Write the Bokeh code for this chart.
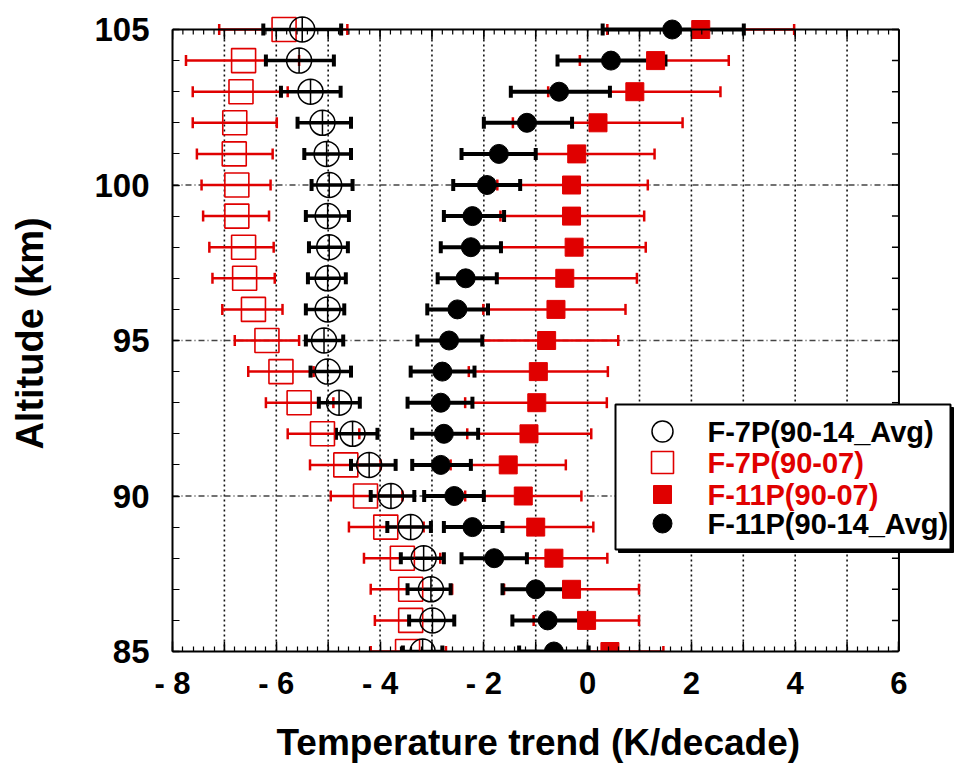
import numpy as np
from bokeh.plotting import figure
from bokeh.models import FixedTicker, Range1d, ColumnDataSource
from bokeh.embed import file_html
from bokeh.resources import INLINE
from bokeh.core.properties import value

# ---------------- data ----------------
altitude = [105, 104, 103, 102, 101, 100, 99, 98, 97, 96, 95,
            94, 93, 92, 91, 90, 89, 88, 87, 86, 85]

# F-7P(90-14_Avg)  open black circles
f7_avg     = [-5.50, -5.56, -5.34, -5.11, -5.03, -4.98, -5.01, -4.98, -5.01, -5.01, -5.08,
              -5.01, -4.79, -4.53, -4.21, -3.79, -3.41, -3.16, -3.02, -2.99, -3.18]
f7_avg_lo  = [-6.25, -6.20, -5.91, -5.59, -5.46, -5.32, -5.43, -5.37, -5.39, -5.43, -5.43,
              -5.34, -5.18, -4.85, -4.56, -4.18, -3.86, -3.60, -3.47, -3.44, -3.56]
f7_avg_hi  = [-4.75, -4.89, -4.76, -4.56, -4.56, -4.53, -4.60, -4.62, -4.66, -4.69, -4.71,
              -4.56, -4.39, -4.05, -3.70, -3.34, -3.02, -2.77, -2.64, -2.57, -2.80]

# F-7P(90-07)  open red squares
f7_07      = [-5.85, -6.63, -6.68, -6.80, -6.81, -6.76, -6.76, -6.63, -6.61, -6.44, -6.18,
              -5.91, -5.56, -5.11, -4.66, -4.28, -3.89, -3.57, -3.41, -3.41, -3.47]
f7_07_lo   = [-7.10, -7.74, -7.61, -7.61, -7.53, -7.44, -7.41, -7.29, -7.23, -7.04, -6.80,
              -6.54, -6.20, -5.78, -5.35, -4.95, -4.60, -4.31, -4.18, -4.10, -4.18]
f7_07_hi   = [-4.63, -5.56, -5.78, -5.99, -6.07, -6.11, -6.14, -6.05, -6.03, -5.88, -5.56,
              -5.28, -4.90, -4.40, -3.99, -3.57, -3.16, -2.84, -2.61, -2.57, -2.73]

# F-11P(90-07)  filled red squares
f11_07     = [2.18, 1.31, 0.91, 0.20, -0.21, -0.31, -0.31, -0.26, -0.44, -0.61, -0.79,
              -0.95, -0.98, -1.13, -1.53, -1.24, -1.00, -0.65, -0.31, -0.02, 0.43]
f11_07_lo  = [0.38, -0.15, -0.76, -1.44, -1.71, -1.74, -1.68, -1.67, -1.75, -2.01, -2.03,
              -2.29, -2.36, -2.32, -2.64, -2.36, -2.11, -1.68, -1.61, -1.04, -0.60]
f11_07_hi  = [3.98, 2.72, 2.56, 1.83, 1.29, 1.16, 1.09, 1.12, 0.95, 0.73, 0.59,
              0.39, 0.37, 0.07, -0.42, -0.12, 0.11, 0.38, 0.99, 0.99, 1.46]

# F-11P(90-14_Avg)  filled black circles
f11_avg    = [1.63, 0.45, -0.55, -1.17, -1.71, -1.94, -2.22, -2.25, -2.35, -2.51, -2.67,
              -2.80, -2.83, -2.77, -2.83, -2.57, -2.22, -1.80, -1.00, -0.77, -0.65]
f11_avg_lo = [0.29, -0.58, -1.48, -2.00, -2.43, -2.59, -2.77, -2.83, -2.89, -3.09, -3.28,
              -3.41, -3.47, -3.38, -3.38, -3.15, -2.77, -2.43, -1.64, -1.45, -1.32]
f11_avg_hi = [3.01, 1.50, 0.43, -0.30, -1.00, -1.30, -1.61, -1.67, -1.75, -1.92, -2.03,
              -2.18, -2.22, -2.11, -2.25, -2.00, -1.64, -1.17, -0.45, 0.00, 0.02]

x_min, x_max = -8, 6
y_min, y_max = 85, 105
x_label_ticks = [-8, -6, -4, -2, 0, 2, 4, 6]
x_tick_labels = {-8: "- 8", -6: "- 6", -4: "- 4", -2: "- 2", 0: "0", 2: "2", 4: "4", 6: "6"}
y_label_ticks = [85, 90, 95, 100, 105]
x_grid = [-7, -6, -5, -4, -3, -2, -1, 0, 1, 2, 3, 4, 5]
y_grid = [90, 95, 100]

series_names = ["F-7P(90-14_Avg)", "F-7P(90-07)", "F-11P(90-07)", "F-11P(90-14_Avg)"]
x_title = "Temperature trend (K/decade)"
y_title = "Altitude (km)"

RED = "#e00000"
FONT = "Liberation Sans"

# ---------------- layout (pixels) ----------------
FRAME_W, FRAME_H = 783, 636
PX_X = 51.89          # pixels per K/decade
PX_Y = 31.10          # pixels per km
X_END = x_min + FRAME_W / PX_X
Y_END = y_min + FRAME_H / PX_Y
dx = lambda px: px / PX_X
dy = lambda px: px / PX_Y

p = figure(frame_width=FRAME_W, frame_height=FRAME_H,
           min_border_left=172, min_border_right=0, min_border_top=15, min_border_bottom=116,
           x_range=Range1d(x_min, X_END), y_range=Range1d(y_min, Y_END),
           output_backend="svg", toolbar_location=None, tools="")
p.outline_line_color = None
p.xgrid.visible = False
p.ygrid.visible = False

def style_axis(ax):
    ax.axis_line_width = 2
    ax.axis_line_color = "black"
    ax.major_tick_line_width = 1.5
    ax.minor_tick_line_width = 1.2
    ax.major_tick_out = 0
    ax.minor_tick_out = 0
    ax.major_label_text_font = FONT
    ax.major_label_text_font_style = "bold"
    ax.major_label_text_color = "black"
    ax.axis_label_text_font = FONT
    ax.axis_label_text_font_style = "bold"
    ax.axis_label_text_color = "black"

minor_x = [round(x_min + 0.2 * i, 2) for i in range(int((x_max - x_min) / 0.2) + 1)]
all_x_int = list(range(x_min, x_max + 1))
all_y_int = list(range(y_min, y_max + 1))

xa = p.xaxis[0]
xa.ticker = FixedTicker(ticks=x_label_ticks, minor_ticks=minor_x)
xa.major_label_overrides = x_tick_labels
xa.bounds = (x_min, x_max)
style_axis(xa)
xa.major_tick_in = 10
xa.minor_tick_in = 5
xa.major_label_text_font_size = "31px"
xa.major_label_standoff = 14
# the frame reaches past x_max to hold the legend; trailing no-break spaces keep
# the title centred under the -8..6 axis span
xa.axis_label = x_title + "\u00a0" * 5
xa.axis_label_text_font_size = "37px"
xa.axis_label_standoff = 18

ya = p.yaxis[0]
ya.ticker = FixedTicker(ticks=y_label_ticks, minor_ticks=all_y_int)
ya.bounds = (y_min, y_max)
style_axis(ya)
ya.major_tick_in = 7
ya.minor_tick_in = 7
ya.major_label_text_font_size = "33px"
ya.major_label_standoff = 23
ya.axis_label = y_title
ya.axis_label_text_font_size = "38px"
ya.axis_label_standoff = 40

# ---------------- grid lines ----------------
p.segment(x0=x_grid, y0=[y_min] * len(x_grid), x1=x_grid, y1=[y_max] * len(x_grid),
          line_color="#111111", line_width=1.6, line_dash="2 3")
p.segment(x0=[x_min] * len(y_grid), y0=y_grid, x1=[x_max] * len(y_grid), y1=y_grid,
          line_color="#444444", line_width=1.6, line_dash="6 3 1 3")

# ---------------- data glyphs ----------------
def src(c, lo, hi):
    return ColumnDataSource(dict(alt=altitude, x=c, lo=lo, hi=hi))

sA = src(f7_avg, f7_avg_lo, f7_avg_hi)
sB = src(f7_07, f7_07_lo, f7_07_hi)
sC = src(f11_07, f11_07_lo, f11_07_hi)
sD = src(f11_avg, f11_avg_lo, f11_avg_hi)

def bars(s, color, lw, cap_size, cap_w):
    p.segment(x0="lo", y0="alt", x1="hi", y1="alt", source=s, line_color=color, line_width=lw)
    for key in ("lo", "hi"):
        p.scatter(x=key, y="alt", source=s, marker="dash", angle=np.pi / 2,
                  size=cap_size, line_color=color, line_width=cap_w)

bars(sB, RED, 2.5, 11, 2.5)
bars(sA, "black", 3.5, 12, 4)
bars(sC, RED, 2.5, 11, 2.5)
bars(sD, "black", 4, 12, 4)

p.scatter(x="x", y="alt", source=sB, marker="square", size=24,
          fill_color=None, line_color=RED, line_width=1.6)
p.scatter(x="x", y="alt", source=sA, marker="circle_cross", size=25,
          fill_color=None, line_color="black", line_width=1.5)
p.scatter(x="x", y="alt", source=sD, marker="circle", size=19,
          fill_color="black", line_color="black")
p.scatter(x="x", y="alt", source=sC, marker="square", size=18,
          fill_color=RED, line_color=RED)

# ---------------- box border: top & right sides, extra bottom ticks ----------------
p.segment(x0=[x_min], y0=[y_max], x1=[x_max], y1=[y_max], line_color="black", line_width=2)
p.segment(x0=[x_max], y0=[y_min], x1=[x_max], y1=[y_max], line_color="black", line_width=2)
p.segment(x0=minor_x, y0=[y_max] * len(minor_x), x1=minor_x, y1=[y_max - dy(5)] * len(minor_x),
          line_color="black", line_width=1.2)
p.segment(x0=all_x_int, y0=[y_max] * len(all_x_int), x1=all_x_int,
          y1=[y_max - dy(10)] * len(all_x_int), line_color="black", line_width=1.5)
odd_x = [x for x in all_x_int if x not in x_label_ticks]
p.segment(x0=odd_x, y0=[y_min] * len(odd_x), x1=odd_x, y1=[y_min + dy(10)] * len(odd_x),
          line_color="black", line_width=1.5)
p.segment(x0=[x_max] * len(all_y_int), y0=all_y_int, x1=[x_max - dx(7)] * len(all_y_int),
          y1=all_y_int, line_color="black", line_width=1.5)

# ---------------- legend (drawn in plot space) ----------------
LB_L, LB_R = x_min + dx(443), x_min + dx(778)
LB_T, LB_B = y_max - dy(375), y_max - dy(520)
p.quad(left=[LB_L + dx(3)], right=[LB_R + dx(3)], top=[LB_T - dy(3)], bottom=[LB_B - dy(3)],
       fill_color="black", line_color="black")
p.quad(left=[LB_L], right=[LB_R], top=[LB_T], bottom=[LB_B],
       fill_color="white", line_color="black", line_width=2)

row_px = [402, 433, 465, 494]          # pixel offsets of rows below y_max
leg_y = [y_max - dy(r) for r in row_px]
leg_mx = x_min + dx(490)
leg_tx = x_min + dx(535)
p.scatter(x=[leg_mx], y=[leg_y[0]], marker="circle", size=21, fill_color="white",
          line_color="black", line_width=1.5)
p.scatter(x=[leg_mx], y=[leg_y[1]], marker="square", size=22, fill_color="white",
          line_color=RED, line_width=1.6)
p.scatter(x=[leg_mx], y=[leg_y[2]], marker="square", size=18, fill_color=RED, line_color=RED)
p.scatter(x=[leg_mx], y=[leg_y[3]], marker="circle", size=19, fill_color="black",
          line_color="black")
p.text(x=[leg_tx] * 4, y=leg_y, text=series_names,
       text_color=["black", RED, RED, "black"],
       text_font=value(FONT), text_font_style="bold", text_font_size=value("29px"),
       text_baseline="middle", text_align="left")

open("out.html", "w").write(file_html(p, INLINE))
